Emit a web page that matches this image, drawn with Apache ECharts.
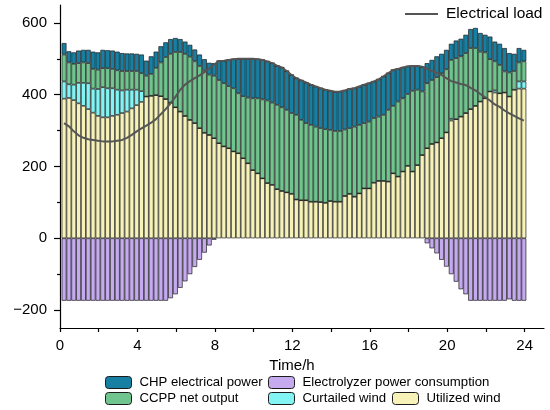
<!DOCTYPE html>
<html>
<head>
<meta charset="utf-8">
<script src="https://cdn.jsdelivr.net/npm/echarts@6.0.0/dist/echarts.min.js"></script>
<style>
html, body { margin: 0; padding: 0; background: #fff; }
#chart { width: 550px; height: 410px; }
</style>
</head>
<body>
<div id="chart"></div>
<script>
'use strict';

///// data (96 quarter-hour intervals, MW) /////

const utilizedWind = [
  389, 391, 385, 376, 369, 360, 350, 341, 337, 337, 341, 344, 349, 353, 362, 371, 380,
  395, 397, 399, 396, 388, 378, 365, 353, 341, 330, 321, 307, 294, 288, 279, 265, 256, 251, 242, 237, 223, 209, 190, 181, 167, 154, 149, 137, 132, 128, 124,
  108, 106, 106, 102, 102, 101, 99, 104, 102, 102, 118, 124, 116, 125, 139, 139, 155, 160, 160, 158, 181, 172, 186, 202, 186, 204, 232, 251, 263, 267, 279, 295,
  328, 332, 339, 349, 360, 369, 381, 390, 409, 406, 404, 406, 395, 414, 417, 417
];

const curtailedWind = [
  48, 38, 43, 57, 64, 72, 67, 75, 84, 81, 77, 70, 63, 61, 52, 43, 30,
  0, 0, 0, 0, 0, 0, 0, 0, 0, 0, 0, 0, 0, 0, 0, 0, 0, 0, 0, 0, 0, 0, 0, 0, 0, 0, 0, 0, 0, 0, 0,
  0, 0, 0, 0, 0, 0, 0, 0, 0, 0, 0, 0, 0, 0, 0, 0, 0, 0, 0, 0, 0, 0, 0, 0, 0, 0, 0, 0, 0, 0, 0, 0,
  5, 0, 0, 0, 0, 0, 0, 0, 0, 6, 0, 0, 0, 0, 20, 20
];

const ccppOutput = [
  75, 61, 58, 55, 57, 56, 55, 54, 53, 56, 54, 54, 54, 52, 52, 52, 50,
  58, 61, 76, 94, 117, 136, 154, 166, 173, 176, 172, 173, 173, 168, 174, 176, 176, 173, 176, 167, 173, 183, 200, 209, 220, 230, 229, 235, 233, 230, 225,
  236, 224, 215, 214, 209, 206, 205, 198, 197, 197, 185, 183, 195, 191, 182, 186, 180, 179, 184, 200, 188, 209, 204, 200, 225, 210, 177, 181, 178, 182, 181, 176,
  164, 170, 168, 167, 170, 161, 139, 128, 90, 81, 79, 59, 67, 52, 53, 56
];

const chpPower = [
  32, 31, 32, 35, 35, 37, 48, 48, 51, 50, 51, 52, 50, 49, 49, 48, 52,
  42, 49, 45, 45, 41, 41, 39, 36, 34, 33, 33, 32, 32, 33, 35, 53, 63, 73, 81, 96, 104, 108, 110, 109, 110, 109, 110, 109, 111, 108, 106,
  102, 110, 113, 112, 112, 111, 110, 109, 109, 110, 109, 109, 107, 107, 107, 107, 102, 104, 107, 102, 100, 91, 86, 77, 69, 66, 68, 56, 56, 58, 54, 54,
  45, 49, 49, 51, 53, 56, 52, 49, 63, 55, 59, 65, 54, 48, 40, 32
];

const electrolyzer = [
  -174, -174, -174, -174, -174, -174, -174, -174, -174, -174, -174, -174, -174, -174, -174, -174, -174, -174, -174, -174, -174, -174,
  -167, -156, -138, -120, -100, -80, -60, -40, -20, -4,
  0, 0, 0, 0, 0, 0, 0, 0, 0, 0, 0, 0, 0, 0, 0, 0, 0, 0, 0, 0, 0, 0, 0, 0, 0, 0, 0, 0, 0, 0, 0, 0, 0, 0, 0, 0, 0, 0, 0, 0, 0, 0, 0,
  -14, -28, -42, -60, -79, -100, -121, -142, -156,
  -174, -174, -174, -174, -174, -174, -174, -174, -170, -174, -174, -174
];

const electricalLoad = [
  321, 312, 298, 287, 280, 276, 274, 272, 270, 270, 270, 272, 274, 280, 288, 298, 306,
  314, 322, 332, 346, 360, 376, 394, 414, 428, 438, 446, 454, 463, 473, 484,
  494, 495, 497, 499, 500, 500, 500, 500, 499, 497, 493, 488, 481, 476, 466, 455, 446, 440, 434, 428,
  423, 418, 414, 411, 408, 409, 412, 416, 418, 423, 428, 432, 437, 443, 451, 460, 469, 472, 476, 479,
  480, 480, 478, 473, 466, 461, 455, 446, 438, 434, 430, 427, 419, 412, 402, 393, 384, 373, 366, 356, 348, 341, 334, 328
];

// bar centres (h)
const hours = utilizedWind.map((_, i) => +(0.25 * i + 0.21).toFixed(2));

const xTickValues = [0, 2, 4, 6, 8, 10, 12, 14, 16, 18, 20, 22, 24];
const xLabelValues = [0, 4, 8, 12, 16, 20, 24];
const yLabelValues = [-200, 0, 200, 400, 600];
const yMinorValues = [-100, 100, 300, 500];

///// style /////

const FONT = '"Liberation Sans", Arial, sans-serif';
const EDGE = '#1c1c1c';

const colors = {
  chp: '#167fa2',
  ccpp: '#70c58f',
  curtailed: '#82f4f4',
  utilized: '#f6f2b8',
  electrolyzer: '#c6aaf0',
  load: '#555555'
};

const txt = (size) => ({ fontFamily: FONT, fontSize: size, color: '#000' });

// grid 0: visible axes (value x), grid 1: bars on a hidden category axis
// grid 1 spans 0.085 h .. 24.085 h of grid 0
const G0 = { left: 60, right: 6, top: 5, bottom: 82, outerBoundsMode: 'none' };
const pxPerHour = (550 - G0.left - G0.right) / 25;
const G1 = {
  left: G0.left + 0.085 * pxPerHour,
  right: 550 - (G0.left + 24.085 * pxPerHour),
  top: G0.top,
  bottom: G0.bottom,
  outerBoundsMode: 'none'
};

const barSeries = (name, values, color) => ({
  name: name,
  type: 'bar',
  stack: 'power',
  xAxisIndex: 1,
  yAxisIndex: 2,
  barCategoryGap: '0%',
  data: values,
  itemStyle: { color: color, borderColor: EDGE, borderWidth: 0.7 },
  emphasis: { disabled: true }
});

const boxLegend = (name, left, top) => ({
  data: [name],
  left: left,
  top: top,
  padding: 0,
  itemWidth: 26,
  itemHeight: 12,
  selectedMode: false,
  itemStyle: { borderColor: EDGE, borderWidth: 1 },
  textStyle: Object.assign(txt(13.2), { padding: [0, 0, 0, 3] })
});

const option = {
  animation: false,
  backgroundColor: '#fff',
  grid: [G0, G1],
  legend: [
    {
      data: [{ name: 'Electrical load', icon: 'rect' }],
      left: 405,
      top: 6,
      padding: 0,
      itemWidth: 33,
      itemHeight: 2,
      selectedMode: false,
      textStyle: Object.assign(txt(15.5), { padding: [0, 0, 0, 3] })
    },
    boxLegend('CHP electrical power', 105, 376),
    boxLegend('Electrolyzer power consumption', 268, 376),
    boxLegend('CCPP net output', 105, 392),
    boxLegend('Curtailed wind', 268, 392),
    boxLegend('Utilized wind', 392, 392)
  ],
  xAxis: [
    {
      type: 'value',
      gridIndex: 0,
      min: 0,
      max: 25,
      name: 'Time/h',
      nameLocation: 'middle',
      nameGap: 29,
      nameTextStyle: Object.assign(txt(15), { padding: [0, 20, 0, 0] }),
      axisLine: { onZero: false, lineStyle: { color: '#000', width: 1.2 } },
      axisTick: { length: 4, customValues: xTickValues, lineStyle: { color: '#000', width: 1.2 } },
      axisLabel: Object.assign(txt(15), { margin: 10, customValues: xLabelValues }),
      splitLine: { show: false }
    },
    {
      type: 'category',
      gridIndex: 1,
      data: hours,
      boundaryGap: true,
      show: false
    }
  ],
  yAxis: [
    {
      type: 'value',
      gridIndex: 0,
      position: 'left',
      min: -250,
      max: 650,
      name: 'Power/MW',
      nameLocation: 'middle',
      nameGap: 42,
      nameTextStyle: txt(15),
      axisLine: { show: true, onZero: false, lineStyle: { color: '#000', width: 1.2 } },
      axisTick: { show: true, length: 6, customValues: yLabelValues, lineStyle: { color: '#000', width: 1.2 } },
      axisLabel: Object.assign(txt(15), {
        margin: 13,
        customValues: yLabelValues,
        formatter: (v) => String(v).replace('-', '\u2212')
      }),
      splitLine: { show: false }
    },
    {
      // minor ticks only
      type: 'value',
      gridIndex: 0,
      position: 'left',
      min: -250,
      max: 650,
      axisLine: { show: false, onZero: false },
      axisTick: { show: true, length: 3, customValues: yMinorValues, lineStyle: { color: '#000', width: 1.2 } },
      axisLabel: { show: false },
      splitLine: { show: false }
    },
    {
      type: 'value',
      gridIndex: 1,
      min: -250,
      max: 650,
      show: false
    }
  ],
  series: [
    barSeries('Utilized wind', utilizedWind, colors.utilized),
    barSeries('Curtailed wind', curtailedWind, colors.curtailed),
    barSeries('CCPP net output', ccppOutput, colors.ccpp),
    barSeries('CHP electrical power', chpPower, colors.chp),
    barSeries('Electrolyzer power consumption', electrolyzer, colors.electrolyzer),
    {
      name: 'Electrical load',
      type: 'line',
      xAxisIndex: 0,
      yAxisIndex: 0,
      data: hours.map((h, i) => [h, electricalLoad[i]]),
      symbol: 'none',
      z: 5,
      lineStyle: { color: colors.load, width: 2 },
      itemStyle: { color: colors.load },
      emphasis: { disabled: true }
    }
  ]
};

const chart = echarts.init(document.getElementById('chart'), null, { renderer: 'canvas' });
chart.setOption(option);
</script>
</body>
</html>
